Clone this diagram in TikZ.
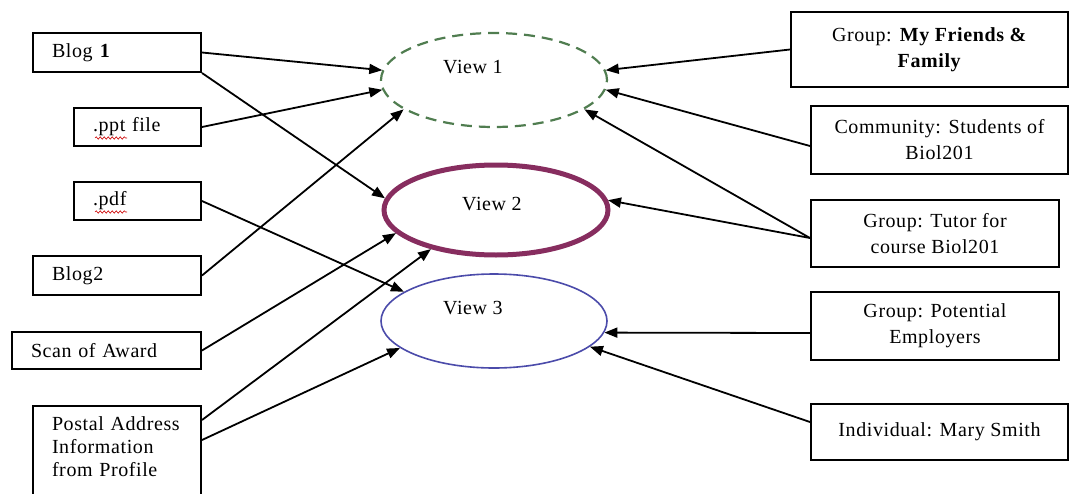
\documentclass[tikz,border=0pt]{standalone}
\usepackage{fontspec}
\setmainfont{Liberation Serif}[LetterSpace=3]
\usetikzlibrary{shapes.geometric,arrows.meta,calc,decorations.pathmorphing}
\definecolor{vgreen}{RGB}{80,125,80}
\definecolor{vmaroon}{RGB}{135,45,95}
\definecolor{vblue}{RGB}{75,75,170}
\tikzset{
  every node/.style={font=\fontsize{20}{23}\selectfont},
  lbox/.style={draw, line width=2pt, rectangle, inner xsep=19pt, inner ysep=0pt, align=left, anchor=west},
  rbox/.style={draw, line width=2pt, rectangle, inner sep=0pt, align=center, font=\fontsize{20}{26}\selectfont},
  view/.style={ellipse, inner sep=0pt},
  arr/.style={line width=1.8pt, -{Triangle[length=13pt,width=10pt]}},
  squig/.style={red!80!black, line width=0.6pt, decorate, decoration={snake, amplitude=1.2pt, segment length=4pt}}
}
\begin{document}
\begin{tikzpicture}[x=1pt,y=-1pt]
\useasboundingbox (0,0) rectangle (1069,493);

% left boxes
\node[lbox, text width=130pt, minimum height=39pt] (b1) at (32,52.5) {Blog \textbf{1}};
\node[lbox, text width=89pt, minimum height=38pt] (ppt) at (73,127) {.ppt file};
\node[lbox, text width=89pt, minimum height=38pt] (pdf) at (73,201) {.pdf};
\node[lbox, text width=130pt, minimum height=39pt] (b2) at (32,275.5) {Blog2};
\node[lbox, text width=151pt, minimum height=37pt] (scan) at (11,350.5) {Scan of Award};
\node[lbox, anchor=north west, text width=130pt, minimum height=112pt] (postal) at (32,405)
  {Postal Address\\ Information\\ from Profile\\ \strut};

% spell-check squiggles
\draw[squig] (95,138) -- (127,138);
\draw[squig] (95,212) -- (127,212);

% views
\node[view, draw=vgreen, dash pattern=on 11pt off 7pt, line width=2.2pt,
  minimum width=226pt, minimum height=94pt,
  label={[xshift=-21pt,yshift=13pt]center:View 1}] (v1) at (494,80) {};
\node[view, draw=vmaroon, line width=5pt,
  minimum width=224pt, minimum height=90pt,
  label={[xshift=-4pt,yshift=6pt]center:View 2}] (v2) at (496,210) {};
\node[view, draw=vblue, line width=1.6pt,
  minimum width=226pt, minimum height=94pt,
  label={[xshift=-21pt,yshift=13pt]center:View 3}] (v3) at (494,321) {};

% right boxes
\node[rbox, minimum width=277pt, minimum height=75pt] (fr) at (929.5,49.5) {Group: \textbf{My Friends \&}\\ \textbf{Family}};
\node[rbox, minimum width=257pt, minimum height=68pt] (com) at (939.5,140) {Community: Students of\\ Biol201};
\node[rbox, minimum width=248pt, minimum height=67pt] (tut) at (935,233.5) {Group: Tutor for\\ course Biol201};
\node[rbox, minimum width=248pt, minimum height=68pt] (emp) at (935,326) {Group: Potential\\ Employers};
\node[rbox, minimum width=257pt, minimum height=56pt] (mary) at (939.5,432) {Individual: Mary Smith};

% left connectors
\draw[arr] (b1.east) -- (v1.175);
\draw[arr] (b1.south east) -- (v2.174);
\draw[arr] (ppt.east) -- (v1.185);
\draw[arr] (pdf.east) -- (v3.162);
\draw[arr] (b2.east) -- (v1.198);
\draw[arr] (scan.east) -- (v2.193);
\draw[arr] ($(postal.north east)+(0,15)$) -- (v2.211);
\draw[arr] ($(postal.north east)+(0,35)$) -- (v3.196);

% right connectors
\draw[arr] (fr.west) -- (v1.5);
\draw[arr] ($(com.west)+(0,6)$) -- (v1.-5);
\draw[arr] ($(tut.west)+(0,4.5)$) -- (v1.-18);
\draw[arr] ($(tut.west)+(0,4.5)$) -- (v2.5);
\draw[arr] ($(emp.west)+(0,7)$) -- (v3.-6);
\draw[arr] ($(mary.west)+(0,-10)$) -- (v3.-15);
\end{tikzpicture}
\end{document}
